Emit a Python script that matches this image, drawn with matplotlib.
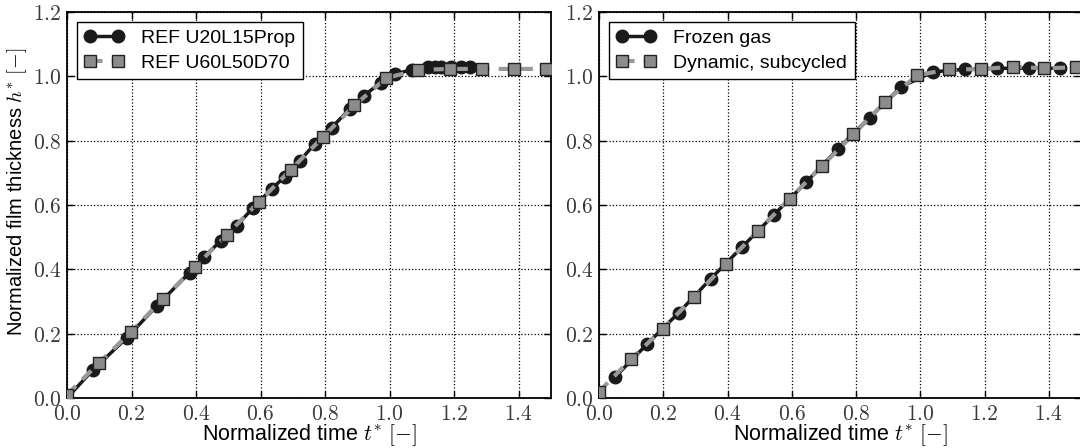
import matplotlib
matplotlib.use("Agg")
import matplotlib.pyplot as plt
from matplotlib.ticker import FuncFormatter, MultipleLocator

plt.rcParams['font.family'] = ['Liberation Sans', 'DejaVu Sans']
plt.rcParams['mathtext.fontset'] = 'cm'

# ---- Left panel data ----
left_labels = ["REF U20L15Prop", "REF U60L50D70"]
left_circ_t = [0.0, 0.08, 0.185, 0.278, 0.38, 0.424, 0.476, 0.526, 0.575, 0.634, 0.675,
               0.721, 0.768, 0.82, 0.876, 0.92, 0.972, 1.018, 1.068, 1.12, 1.14, 1.16,
               1.19, 1.22, 1.25]
left_circ_h = [0.0, 0.087, 0.187, 0.286, 0.39, 0.438, 0.488, 0.535, 0.59, 0.65, 0.688,
               0.737, 0.79, 0.84, 0.899, 0.94, 0.98, 1.008, 1.02, 1.03, 1.03, 1.03,
               1.03, 1.03, 1.03]
left_sq_t = [0.0, 0.099, 0.198, 0.297, 0.396, 0.495, 0.594, 0.693, 0.792, 0.891, 0.99,
             1.089, 1.188, 1.287, 1.386, 1.485]
left_sq_h = [0.01, 0.109, 0.205, 0.308, 0.407, 0.507, 0.609, 0.709, 0.81, 0.91, 0.995,
             1.02, 1.023, 1.023, 1.023, 1.023]

# ---- Right panel data ----
right_labels = ["Frozen gas", "Dynamic, subcycled"]
right_circ_t = [0.05, 0.149, 0.248, 0.347, 0.446, 0.545, 0.644, 0.743, 0.842, 0.941,
                1.04, 1.139, 1.238, 1.337, 1.436]
right_circ_h = [0.065, 0.167, 0.265, 0.37, 0.47, 0.57, 0.67, 0.774, 0.872, 0.968,
                1.014, 1.022, 1.025, 1.025, 1.025]
right_sq_t = [0.0, 0.099, 0.198, 0.297, 0.396, 0.495, 0.594, 0.693, 0.792, 0.891, 0.99,
              1.089, 1.188, 1.287, 1.386, 1.485]
right_sq_h = [0.02, 0.12, 0.215, 0.315, 0.418, 0.52, 0.62, 0.72, 0.82, 0.921, 1.003,
              1.022, 1.022, 1.03, 1.025, 1.028]

xlabel = r"Normalized time $t^{*}$ $[-]$"
ylabel = r"Normalized film thickness $h^{*}$ $[-]$"

fig = plt.figure(figsize=(10.8, 4.48), dpi=100)
ax1 = fig.add_axes([67/1080, 50/448, 484/1080, 386/448])
ax2 = fig.add_axes([599/1080, 50/448, 482/1080, 386/448])

fmt = FuncFormatter(lambda v, p: r"$%.1f$" % v)

def style(ax):
    ax.set_xlim(0, 1.5)
    ax.set_ylim(0, 1.2)
    ax.xaxis.set_major_locator(MultipleLocator(0.2))
    ax.yaxis.set_major_locator(MultipleLocator(0.2))
    ax.xaxis.set_major_formatter(fmt)
    ax.yaxis.set_major_formatter(fmt)
    ax.tick_params(direction='in', top=True, right=True, length=5, width=1,
                   labelsize=15.5, labelcolor='#3a3a3a', pad=4)
    ax.grid(True, linestyle=':', color='black', linewidth=0.9)
    for s in ax.spines.values():
        s.set_linewidth(1.3)
    ax.set_xlabel(xlabel, fontsize=15.5, labelpad=-2)

def draw(ax, ct, ch, st, sh, labels):
    ax.plot(ct, ch, '-o', color='#1a1a1a', lw=2.5, ms=9, mec='#1a1a1a',
            label=labels[0], zorder=3)
    ax.plot(st, sh, '--s', color='#999999', lw=3, ms=9, mfc='#8c8c8c',
            mec='#222222', mew=1.0, label=labels[1], zorder=4,
            dashes=(3, 2.2))
    leg = ax.legend(loc='upper left', numpoints=2, fontsize=14, fancybox=False,
                    framealpha=1, edgecolor='black', handlelength=2.0,
                    handletextpad=0.9, borderaxespad=0.5, borderpad=0.4,
                    labelspacing=0.35)
    leg.get_frame().set_linewidth(1.0)

draw(ax1, left_circ_t, left_circ_h, left_sq_t, left_sq_h, left_labels)
draw(ax2, right_circ_t, right_circ_h, right_sq_t, right_sq_h, right_labels)
style(ax1)
style(ax2)
ax1.set_ylabel(ylabel, fontsize=14.5)
ax1.yaxis.set_label_coords(-0.078, 0.535)

fig.savefig("out.png", dpi=100)
